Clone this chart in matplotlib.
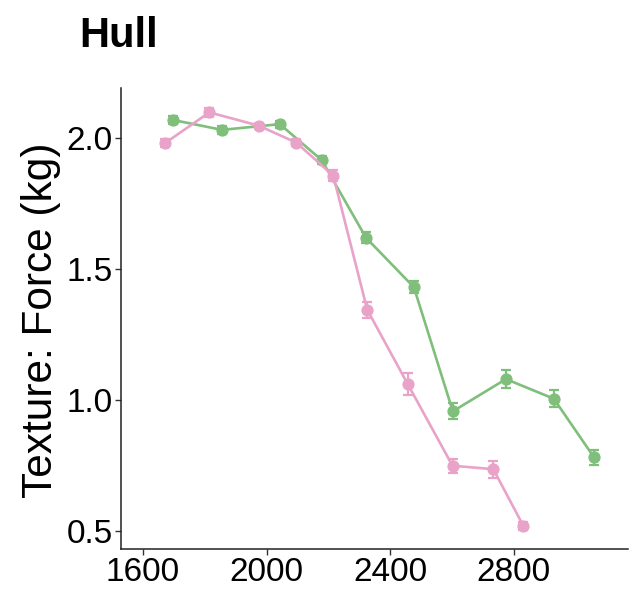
import matplotlib
matplotlib.use("Agg")
import matplotlib.pyplot as plt

plt.rcParams['font.family'] = ['Liberation Sans', 'DejaVu Sans']

# Thermal time (x) vs. hull texture force, mean and standard error per sampling date
green_x = [1697, 1856, 2043, 2179, 2322, 2477, 2603, 2775, 2930, 3060]
green_y = [2.069, 2.031, 2.053, 1.915, 1.619, 1.430, 0.956, 1.079, 1.004, 0.780]
green_se = [0.015, 0.015, 0.013, 0.015, 0.021, 0.022, 0.030, 0.034, 0.032, 0.030]

pink_x = [1671, 1815, 1975, 2097, 2216, 2326, 2457, 2602, 2734, 2831]
pink_y = [1.980, 2.098, 2.047, 1.982, 1.856, 1.344, 1.060, 0.748, 0.735, 0.519]
pink_se = [0.015, 0.017, 0.011, 0.013, 0.020, 0.030, 0.042, 0.026, 0.032, 0.016]

x_ticks = [1600, 2000, 2400, 2800]
y_ticks = [0.5, 1.0, 1.5, 2.0]

green = '#7FBF7B'
pink = '#E9A3C9'

fig = plt.figure(figsize=(6.29, 5.92), dpi=100)
ax = fig.add_axes([121 / 629, 1 - 549 / 592, 507 / 629, 461 / 592])

for xs, ys, es, c in [(green_x, green_y, green_se, green), (pink_x, pink_y, pink_se, pink)]:
    ax.errorbar(xs, ys, yerr=es, color=c, lw=1.9, marker='o', markersize=7.8,
                capsize=3.8, capthick=1.6, elinewidth=1.6, zorder=3)

ax.set_xlim(1529, 3170)
ax.set_ylim(0.430, 2.191)
ax.set_xticks(x_ticks)
ax.set_yticks(y_ticks)
ax.set_xticklabels([str(v) for v in x_ticks])
ax.set_yticklabels([f"{v:.1f}" for v in y_ticks])

for s in ['top', 'right']:
    ax.spines[s].set_visible(False)
for s in ['left', 'bottom']:
    ax.spines[s].set_color('#222222')
    ax.spines[s].set_linewidth(1.1)
ax.tick_params(axis='both', direction='out', length=4, width=1.0, color='#333333',
               labelsize=24, labelcolor='black', pad=2)

fig.text(41 / 629, 1 - 320 / 592, 'Texture: Force (kg)', rotation=90,
         ha='center', va='center', fontsize=30.5)
fig.text(79 / 629, 1 - 47 / 592, 'Hull', ha='left', va='baseline',
         fontsize=30, fontweight='bold')

fig.savefig('out.png', dpi=100)
